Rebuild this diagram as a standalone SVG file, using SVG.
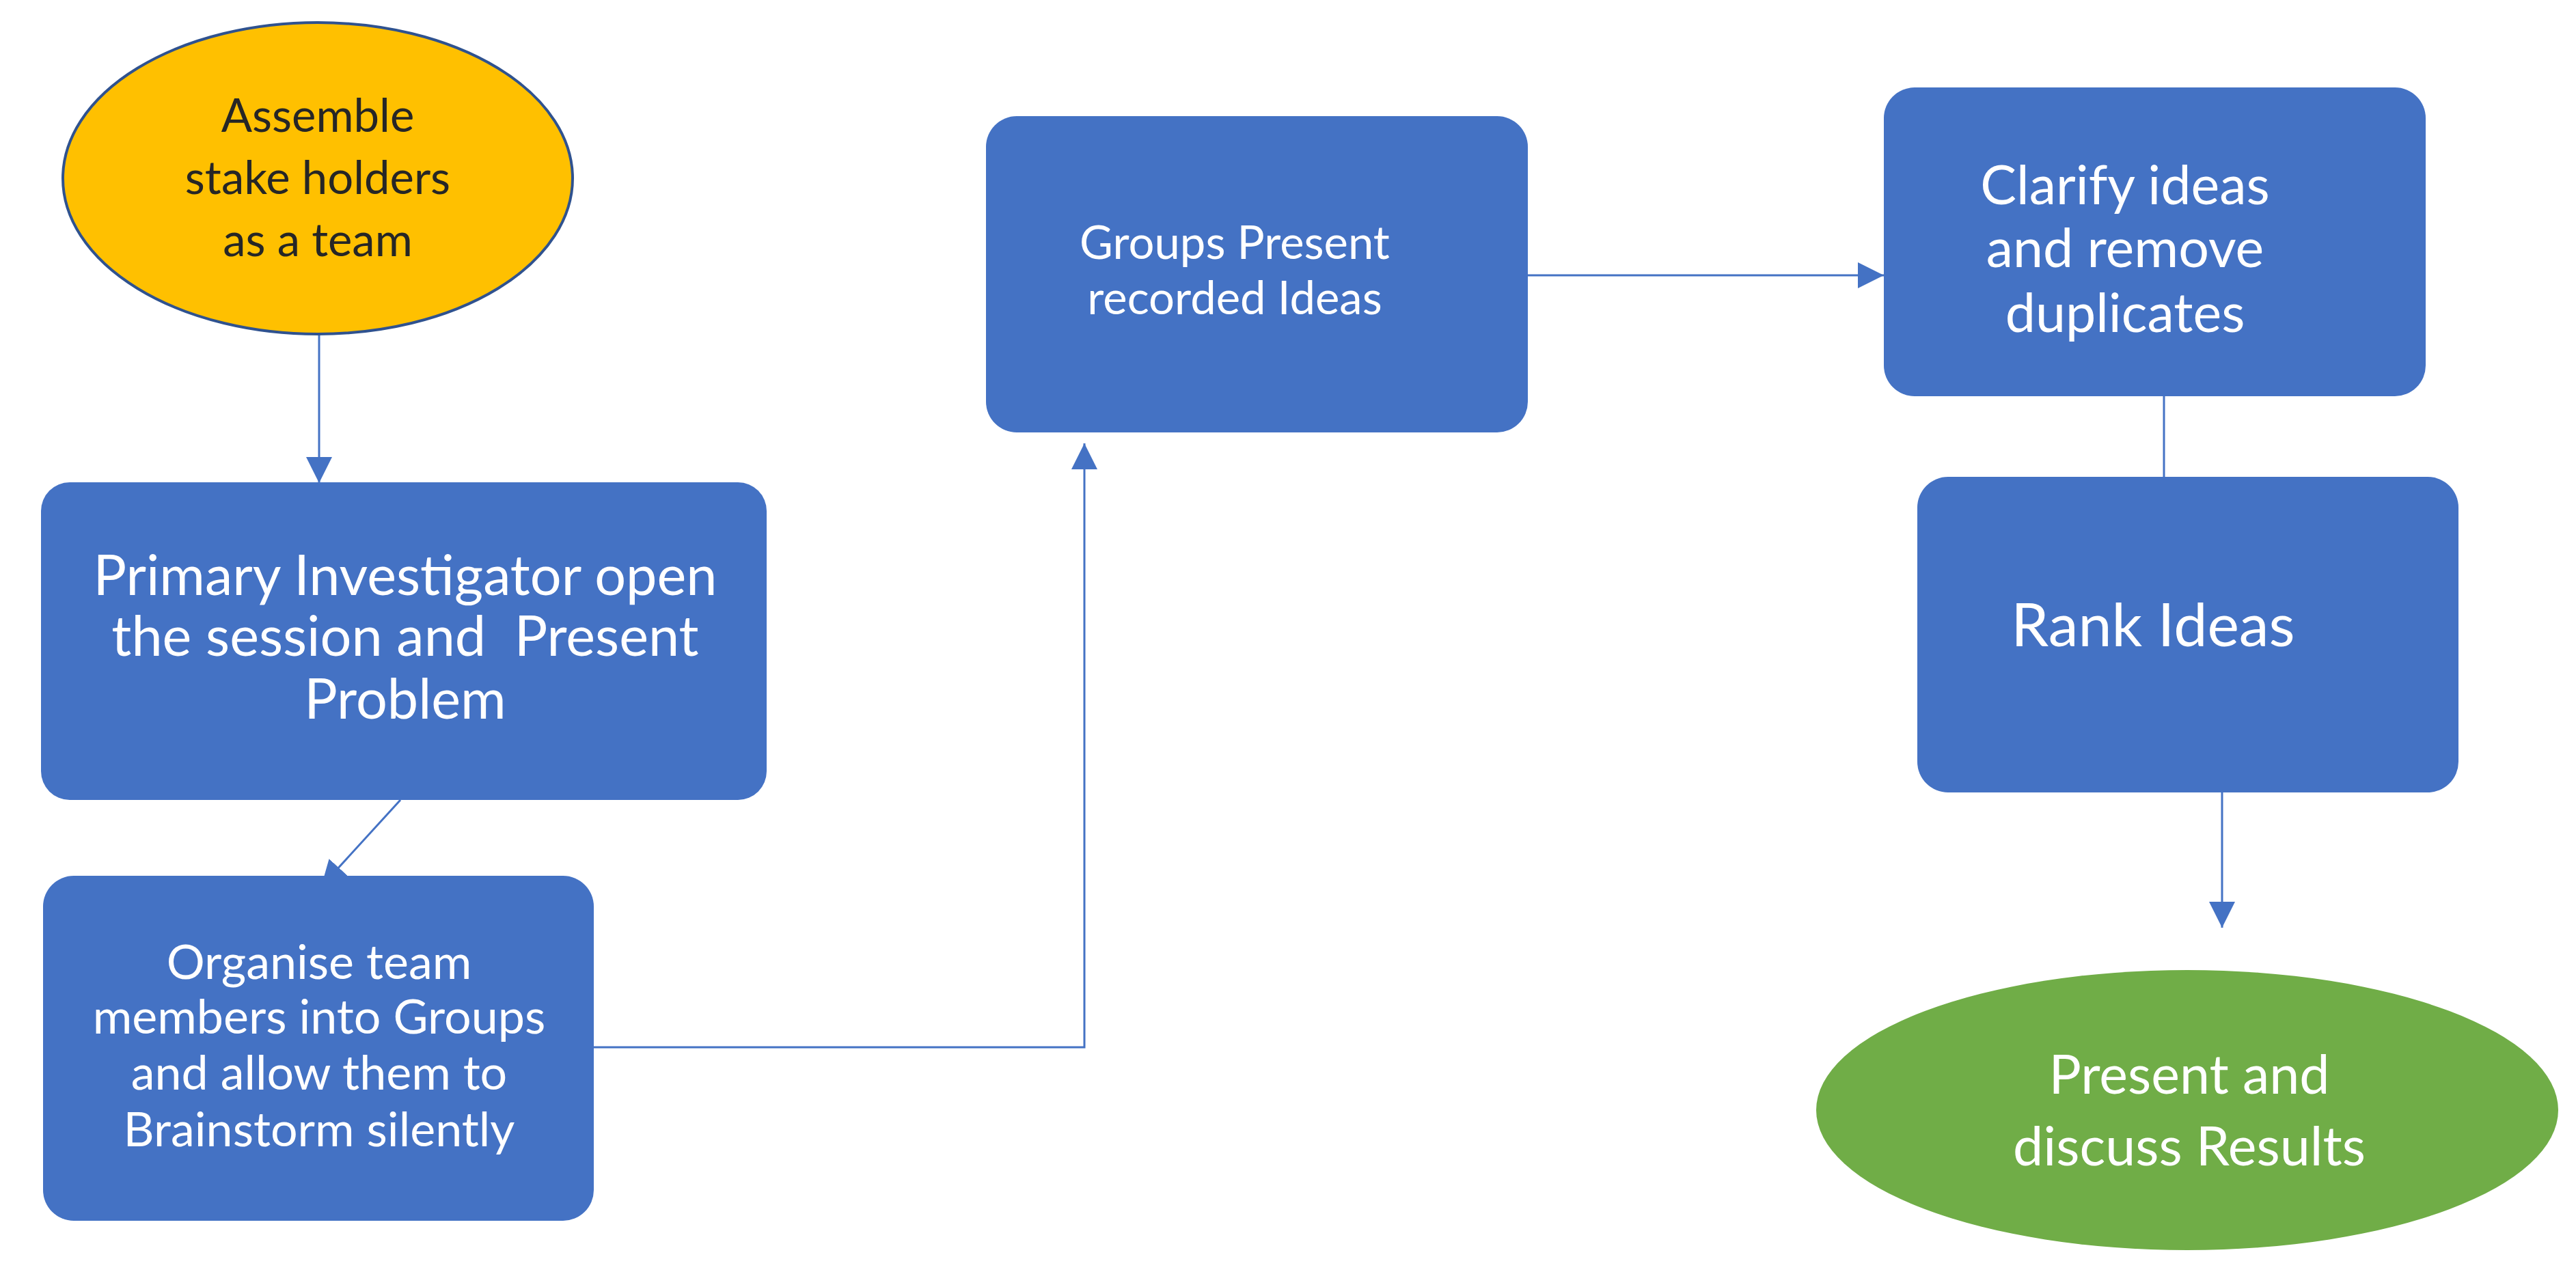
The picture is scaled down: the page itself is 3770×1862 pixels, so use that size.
<svg xmlns="http://www.w3.org/2000/svg" width="3770" height="1862" viewBox="0 0 3770 1862">
<style>
.box{fill:#4472C4;}
.t{font-family:Lato,"Open Sans","Liberation Sans",sans-serif;text-anchor:middle;fill:#FFFFFF;}
.dk{fill:#262626;}
.conn{fill:none;stroke:#4472C4;stroke-width:3;}
</style>
<defs>
<marker id="ah" markerUnits="userSpaceOnUse" markerWidth="38" markerHeight="38" viewBox="0 0 36 36" refX="36" refY="18" orient="auto">
<path d="M0,0 L36,18 L0,36 z" fill="#4472C4"/>
</marker>
</defs>
<rect width="3770" height="1862" fill="#FFFFFF"/>
<g id="connectors">
<path class="conn" d="M467,489 L467,707" stroke-width="2.5" marker-end="url(#ah)"/>
<path class="conn" d="M586,1171 L470,1298" marker-end="url(#ah)"/>
<path class="conn" d="M869,1533 L1587,1533 L1587,649" marker-end="url(#ah)"/>
<path class="conn" d="M2236,403 L2757,403" marker-end="url(#ah)"/>
<path class="conn" d="M3167,580 L3167,698"/>
<path class="conn" d="M3252,1159 L3252,1358" marker-end="url(#ah)"/>
</g>
<g id="assemble">
<ellipse cx="465" cy="261" rx="373" ry="228" fill="#FFC000" stroke="#2F528F" stroke-width="4"/>
<text class="t dk" font-size="67"><tspan x="465" y="193">Assemble</tspan><tspan x="465" y="284">stake holders</tspan><tspan x="465" y="375">as a team</tspan></text>
</g>
<g id="primary">
<rect class="box" x="60" y="706" width="1062" height="465" rx="42"/>
<text class="t" font-size="81" xml:space="preserve"><tspan x="593" y="871">Primary Investigator open</tspan><tspan x="593" y="960">the session and  Present</tspan><tspan x="593" y="1052">Problem</tspan></text>
</g>
<g id="organise">
<rect class="box" x="63" y="1282" width="806" height="505" rx="45"/>
<text class="t" font-size="70"><tspan x="467" y="1433">Organise team</tspan><tspan x="467" y="1513">members into Groups</tspan><tspan x="467" y="1595">and allow them to</tspan><tspan x="467" y="1678">Brainstorm silently</tspan></text>
</g>
<g id="groups">
<rect class="box" x="1443" y="170" width="793" height="463" rx="45"/>
<text class="t" font-size="67"><tspan x="1807" y="379">Groups Present</tspan><tspan x="1807" y="460">recorded Ideas</tspan></text>
</g>
<g id="clarify">
<rect class="box" x="2757" y="128" width="793" height="452" rx="45"/>
<text class="t" font-size="79"><tspan x="3110" y="299">Clarify ideas</tspan><tspan x="3110" y="391">and remove</tspan><tspan x="3110" y="486">duplicates</tspan></text>
</g>
<g id="rank">
<rect class="box" x="2806" y="698" width="792" height="462" rx="45"/>
<text class="t" font-size="88"><tspan x="3151" y="946">Rank Ideas</tspan></text>
</g>
<g id="results">
<ellipse cx="3201" cy="1625" rx="543" ry="205" fill="#70AD47"/>
<text class="t" font-size="79"><tspan x="3204" y="1601">Present and</tspan><tspan x="3204" y="1706">discuss Results</tspan></text>
</g>
</svg>
